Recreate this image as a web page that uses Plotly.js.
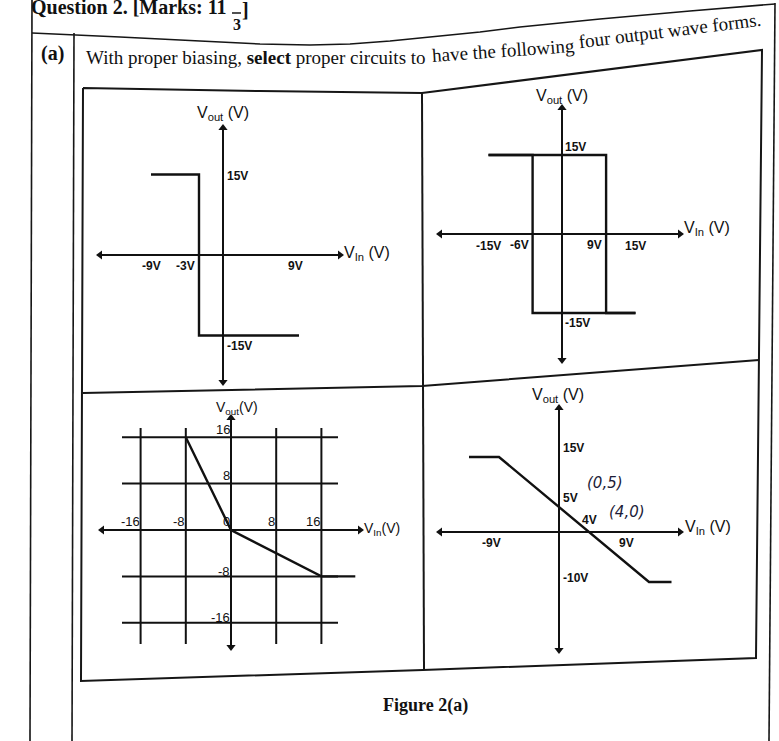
<!DOCTYPE html>
<html>
<head>
<meta charset="utf-8">
<script src="https://cdn.plot.ly/plotly-3.0.1.min.js"></script>
<style>
html,body{margin:0;padding:0;background:#fff;}
#chart{width:779px;height:741px;}
</style>
</head>
<body>
<div id="chart"></div>
<script>
// ================= DATA =================
// (1) top-left: inverting comparator, threshold -3 V
const p1Vin  = [-9, -3, -3, 9.5];
const p1Vout = [15, 15, -15, -15];
const p1XTicks = [-9, -3, 9];
const p1XText  = ['-9V', '-3V', '9V'];
const p1YTicks = [15, -15];
const p1YText  = ['15V', '-15V'];

// (2) top-right: hysteresis loop (thresholds -6 V and 9 V)
const p2RiseVin  = [-15, 9, 9, 15];
const p2RiseVout = [15, 15, -15, -15];
const p2FallVin  = [15, -6, -6, -15];
const p2FallVout = [-15, -15, 15, 15];
const p2XTicks = [-15, -6, 9, 15];
const p2XText  = ['-15V', '-6V', '9V', '15V'];
const p2YTicks = [15, -15];
const p2YText  = ['15V', '-15V'];

// (3) bottom-left: piecewise-linear on an 8 V grid
const p3Vin  = [-8, 0, 16, 22];
const p3Vout = [16, 0, -8, -8];
const p3Grid = [-16, -8, 8, 16];
const p3XTicks = [-16, -8, 0, 8, 16];
const p3XText  = ['-16', '-8', '0', '8', '16'];
const p3YTicks = [16, 8, -8, -16];
const p3YText  = ['16', '8', '-8', '-16'];

// (4) bottom-right: inverting limiter through (0,5) and (4,0)
const p4Vin  = [-12, -8, 12, 15];
const p4Vout = [15, 15, -10, -10];
const p4XTicks = [-9, 4, 9];
const p4XText  = ['-9V', '4V', '9V'];
const p4YTicks = [15, 5, -10];
const p4YText  = ['15V', '5V', '-10V'];
const p4PtsX = [0, 4];
const p4PtsY = [5, 0];
const p4PtsText = ['(0,5)', '(4,0)'];

// ================= LAYOUT HELPERS =================
const W = 779, H = 741;
const px = x => x / W;
const py = y => 1 - y / H;
const INK = '#111';
const SANS = "'Liberation Sans Narrow', 'Liberation Sans', Arial, sans-serif";
const SANS2 = "'Liberation Sans', Arial, sans-serif";
const SERIF = "'Liberation Serif', 'Times New Roman', serif";

const P = {
  1: {X: [84, 421],  Y: [95, 386],  o: [223, 255], s: [8, 5.37]},
  2: {X: [424, 758], Y: [62, 380],  o: [562, 234], s: [4.9, 5.27]},
  3: {X: [84, 421],  Y: [392, 672], o: [231, 530], s: [5.65, 5.8]},
  4: {X: [424, 758], Y: [385, 665], o: [559, 532], s: [7.5, 5]}
};
const dx = (i, v) => (v - P[i].o[0]) / P[i].s[0];
const dy = (i, v) => (P[i].o[1] - v) / P[i].s[1];
const sfx = i => (i === 1 ? '' : String(i));

const layout = {
  width: W, height: H,
  margin: {l: 0, r: 0, t: 0, b: 0},
  paper_bgcolor: '#fff', plot_bgcolor: 'rgba(0,0,0,0)',
  showlegend: false, hovermode: false,
  annotations: [], shapes: []
};
for (const i of [1, 2, 3, 4]) {
  const p = P[i], s = sfx(i);
  layout['xaxis' + s] = {domain: [px(p.X[0]), px(p.X[1])], range: [dx(i, p.X[0]), dx(i, p.X[1])],
    visible: false, fixedrange: true, anchor: 'y' + s};
  layout['yaxis' + s] = {domain: [py(p.Y[1]), py(p.Y[0])], range: [dy(i, p.Y[1]), dy(i, p.Y[0])],
    visible: false, fixedrange: true, anchor: 'x' + s};
}

function lab(text, x, y, o) {
  return Object.assign({text, x: px(x), y: py(y), xref: 'paper', yref: 'paper', showarrow: false,
    xanchor: 'center', yanchor: 'middle',
    font: {family: SANS2, size: 16, color: INK}}, o || {});
}
function tick(i, text, x, y, o) {
  const s = sfx(i);
  return Object.assign({text, x, y, xref: 'x' + s, yref: 'y' + s, showarrow: false,
    xanchor: 'center', yanchor: 'middle',
    font: {family: SANS, size: 12, color: INK, weight: 'bold'}}, o || {});
}

// axis titles
const VOUT = 'V<sub>out</sub> (V)', VIN = 'V<sub>In</sub> (V)';
layout.annotations.push(
  lab(VOUT, 223, 113), lab(VIN, 342, 253, {xanchor: 'left'}),
  lab(VOUT, 562, 96),  lab(VIN, 682, 228, {xanchor: 'left'}),
  lab('V<sub>out</sub>(V)', 237, 408, {font: {family: SANS2, size: 14, color: INK}}),
  lab('V<sub>In</sub>(V)', 362, 529, {xanchor: 'left', font: {family: SANS2, size: 14, color: INK}}),
  lab(VOUT, 558, 395), lab(VIN, 683, 527, {xanchor: 'left'})
);

// panel 1 ticks
p1XTicks.forEach((v, k) => layout.annotations.push(
  tick(1, p1XText[k], v, 0, v === -3 ? {xanchor: 'right', xshift: -2, yshift: -11} : {yshift: -11})));
p1YTicks.forEach((v, k) => layout.annotations.push(
  tick(1, p1YText[k], 0, v, {xanchor: 'left', xshift: 2, yshift: v > 0 ? -2 : -10})));
// panel 2 ticks
p2XTicks.forEach((v, k) => layout.annotations.push(
  tick(2, p2XText[k], v, 0, (v === -6 || v === 9) ? {xanchor: 'right', xshift: -2, yshift: -11} : {yshift: -12})));
p2YTicks.forEach((v, k) => layout.annotations.push(
  tick(2, p2YText[k], 0, v, {xanchor: 'left', xshift: 1, yshift: v > 0 ? 8 : -10})));
// panel 3 ticks
const f3 = {family: SANS, size: 13, color: INK};
p3XTicks.forEach((v, k) => layout.annotations.push(
  tick(3, p3XText[k], v, 0, {xanchor: 'right', xshift: 1, yshift: 9, font: f3})));
p3YTicks.forEach((v, k) => layout.annotations.push(
  tick(3, p3YText[k], 0, v, {xanchor: 'right', xshift: 1, yshift: v > 0 ? 8 : 5, font: f3})));
// panel 4 ticks
p4XTicks.forEach((v, k) => layout.annotations.push(
  tick(4, p4XText[k], v, 0, {yshift: v === 4 ? 12 : -11})));
p4YTicks.forEach((v, k) => layout.annotations.push(
  tick(4, p4YText[k], 0, v, {xanchor: 'left', xshift: 2, yshift: v === -10 ? 4 : 9})));
p4PtsX.forEach((v, k) => layout.annotations.push(
  tick(4, p4PtsText[k], v, p4PtsY[k], {xanchor: 'left', xshift: k === 0 ? 26 : 18, yshift: k === 0 ? 24 : 20,
    font: {family: "'DejaVu Sans', sans-serif", size: 15, color: '#1c1c38', style: 'italic'}})));

// grid of panel 3
p3Grid.forEach(v => {
  layout.shapes.push({type: 'line', xref: 'x3', yref: 'y3', x0: v, x1: v, y0: dy(3, 428), y1: dy(3, 644),
    line: {color: INK, width: 2}});
  layout.shapes.push({type: 'line', xref: 'x3', yref: 'y3', y0: v, y1: v, x0: dx(3, 122), x1: dx(3, 338),
    line: {color: INK, width: 2}});
});

// page borders (scanned sheet)
function poly(pts, w) {
  const d = pts.map((p, k) => (k ? 'L' : 'M') + px(p[0]).toFixed(5) + ',' + py(p[1]).toFixed(5)).join(' ');
  return {type: 'path', xref: 'paper', yref: 'paper', path: d, line: {color: '#161616', width: w || 1.8}};
}
layout.shapes.push(
  poly([[32, 0], [30, 741]], 1.6),
  poly([[74, 33], [72, 741]], 1.6),
  poly([[775, 3], [769, 741]], 1.6),
  poly([[32, 33], [120, 37], [200, 41], [260, 44], [310, 45], [350, 44], [390, 41], [430, 37],
        [480, 32], [520, 27], [600, 19], [690, 11], [775, 4]], 1.6),
  poly([[83, 88], [260, 91], [422, 93], [762, 50], [756, 658], [423, 670], [81, 681], [83, 88]], 2),
  poly([[422, 93], [424, 670]], 2),
  poly([[83, 393], [422, 386], [759, 360]], 2)
);

// header / caption text
const serifB = (size) => ({family: SERIF, size: size, color: INK, weight: 'bold'});
const serif = (size) => ({family: SERIF, size: size, color: INK});
layout.annotations.push(
  lab('Question 2. [Marks: 11', 229, 7, {xanchor: 'right', font: serifB(20)}),
  lab('3', 237, 25, {font: serifB(16)}),
  lab(']', 245, 10, {font: serifB(20)}),
  lab('(a)', 52, 53, {font: serifB(20)}),
  lab('With proper biasing, <b>select</b> proper circuits to', 84, 58, {xanchor: 'left', font: serif(19)}),
  lab('have the following', 503, 51, {textangle: -4, font: serif(19)}),
  lab('four output wave forms.', 670, 30, {textangle: -7, font: serif(19)}),
  lab('Figure 2(a)', 425, 705, {font: serifB(18)})
);
layout.shapes.push(poly([[232, 13], [241, 13]], 1.5));

// ================= TRACES =================
const line = {color: INK, width: 2.4};
const tr = (x, y, i) => ({x, y, xaxis: 'x' + sfx(i), yaxis: 'y' + sfx(i), type: 'scatter', mode: 'lines',
  line, hoverinfo: 'skip', cliponaxis: false});
// axis arrows: lines with triangle heads
const axTr = (x, y, i, sym) => ({x, y, xaxis: 'x' + sfx(i), yaxis: 'y' + sfx(i), type: 'scatter',
  mode: 'lines+markers', line: {color: INK, width: 2}, hoverinfo: 'skip', cliponaxis: false,
  marker: {symbol: sym, size: 8, color: INK}});
const AX = {
  1: {l: 100, r: 340, t: 128, b: 382},
  2: {l: 440, r: 680, t: 108, b: 360},
  3: {l: 102, r: 360, t: 418, b: 647},
  4: {l: 440, r: 680, t: 408, b: 650}
};
const traces = [];
for (const i of [1, 2, 3, 4]) {
  const a = AX[i];
  traces.push(axTr([dx(i, a.l), dx(i, a.r)], [0, 0], i, ['triangle-left', 'triangle-right']));
  traces.push(axTr([0, 0], [dy(i, a.b), dy(i, a.t)], i, ['triangle-down', 'triangle-up']));
}
traces.push(
  tr(p1Vin, p1Vout, 1),
  tr(p2RiseVin, p2RiseVout, 2),
  tr(p2FallVin, p2FallVout, 2),
  tr(p3Vin, p3Vout, 3),
  tr(p4Vin, p4Vout, 4)
);

Plotly.newPlot('chart', traces, layout, {staticPlot: true, displayModeBar: false});
</script>
</body>
</html>
